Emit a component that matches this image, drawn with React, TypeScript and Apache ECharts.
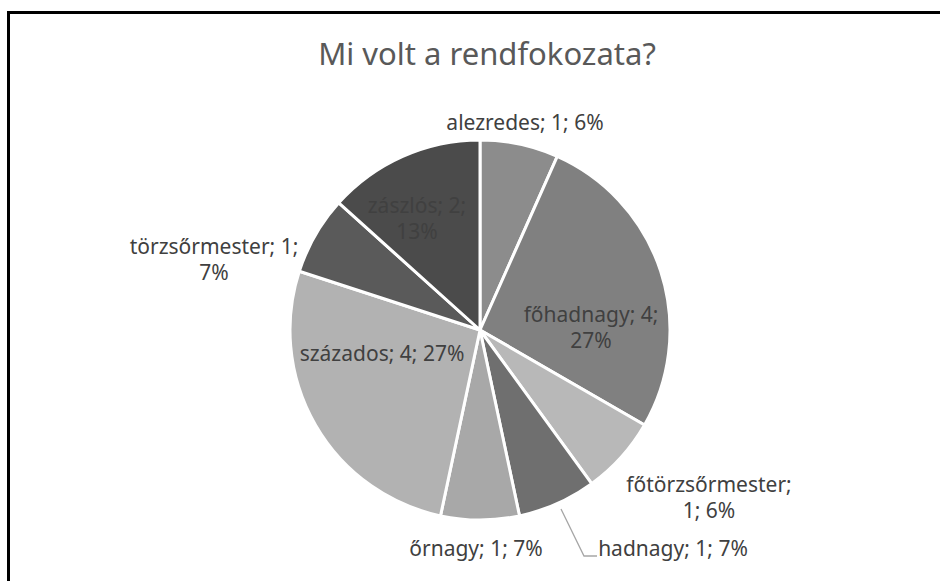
import React, { useEffect, useRef } from "react";
import * as echarts from "echarts";

const categories = ["alezredes", "főhadnagy", "főtörzsőrmester", "hadnagy", "őrnagy", "százados", "törzsőrmester", "zászlós"];
const counts = [1, 4, 1, 1, 1, 4, 1, 2];
const percents = [6, 27, 6, 7, 7, 27, 7, 13];

const sliceColors = ["#8c8c8c", "#808080", "#b8b8b8", "#6f6f6f", "#a8a8a8", "#b2b2b2", "#5a5a5a", "#4b4b4b"];
// line-break position per label: 0 = none, 1 = after name, 2 = after count
const breaks = [0, 2, 1, 0, 0, 0, 2, 2];
// label centres (layout only)
const labelPos: [number, number][] = [
  [525, 122], [591, 327], [709, 497], [673, 548], [476, 548], [382, 353], [214, 259], [417, 218],
];

export default function App() {
  const ref = useRef<HTMLDivElement>(null);
  useEffect(() => {
    if (!ref.current) return;
    const chart = echarts.init(ref.current, undefined, { renderer: "svg" });
    const data = categories.map((name, i) => ({
      name,
      value: counts[i],
      itemStyle: { color: sliceColors[i] },
      labelLine: { show: i === 3, lineStyle: { color: "#a6a6a6", width: 1.3 } },
    }));
    chart.setOption({
      animation: false,
      backgroundColor: "#ffffff",
      title: {
        text: "Mi volt a rendfokozata?",
        left: 482,
        top: 29,
        textAlign: "center",
        textStyle: { fontFamily: "Noto Sans", fontSize: 31, fontWeight: "normal", color: "#595959", lineHeight: 38 },
      },
      graphic: [
        {
          type: "polyline",
          shape: { points: [[8.5, 600], [8.5, 12.5], [960, 12.5]] },
          style: { stroke: "#000000", lineWidth: 3, fill: "none" },
          silent: true,
        },
      ],
      series: [
        {
          type: "pie",
          center: [480, 330],
          radius: [0, 190],
          startAngle: 90,
          clockwise: true,
          avoidLabelOverlap: false,
          itemStyle: { borderColor: "#ffffff", borderWidth: 3 },
          label: {
            show: true,
            position: "outside",
            fontFamily: "Noto Sans",
            fontSize: 21,
            lineHeight: 26,
            color: "#404040",
            align: "center",
            formatter: (p: any) => {
              const i = p.dataIndex;
              const a = `${categories[i]};`;
              const b = `${counts[i]};`;
              const c = `${percents[i]}%`;
              if (breaks[i] === 1) return `${a}\n${b} ${c}`;
              if (breaks[i] === 2) return `${a} ${b}\n${c}`;
              return `${a} ${b} ${c}`;
            },
          },
          labelLine: { show: false },
          labelLayout: (params: any) => {
            const i = params.dataIndex;
            const [x, y] = labelPos[i];
            const res: any = { x, y, align: "center", verticalAlign: "middle" };
            if (i === 3) {
              res.labelLinePoints = [[561, 509], [584, 556], [597, 556]];
            }
            return res;
          },
          data,
        },
      ],
    });
    return () => chart.dispose();
  }, []);
  return (
    <div
      ref={ref}
      style={{ position: "absolute", left: 0, top: 0, width: 940, height: 581, background: "#fff" }}
    />
  );
}
